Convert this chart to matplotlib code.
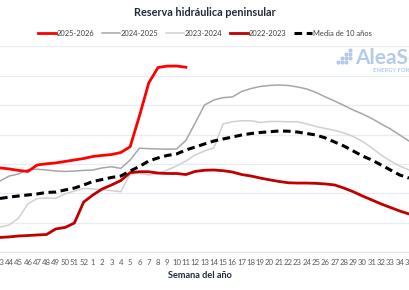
import numpy as np
import matplotlib.pyplot as plt
from matplotlib.lines import Line2D

plt.rcParams.update(
    {
        "font.family": ["Lato", "DejaVu Sans"],
        "axes.edgecolor": "#dfe6ef",
    }
)

# week of the year (hydrological year, visible part of the chart)
weeks = list(range(43, 53)) + list(range(1, 36))

# reserve, GWh
s2025_2026 = [9740, 9670, 9570, 9500, 9940, 10020, 10080, 10180, 10280, 10380,
              10520, 10590, 10650, 10790, 11180, 13270, 15520, 16570, 16670, 16670,
              16590]
s2024_2025 = [8850, 9190, 9330, 9630, 9650, 9600, 9530, 9500, 9530, 9570,
              9600, 9740, 9820, 9710, 10280, 11080, 11050, 11030, 11010, 11030,
              11610, 12800, 14020, 14360, 14520, 14570, 14940, 15140, 15280, 15350,
              15380, 15350, 15250, 15110, 14870, 14570, 14290, 13990, 13680, 13410,
              13100, 12730, 12390, 11980, 11570]
s2023_2024 = [5720, 5860, 6330, 7290, 7660, 7690, 7670, 7970, 8170, 8340,
              8310, 8270, 8190, 8120, 9330, 9390, 9260, 9360, 9600, 9870,
              10210, 10620, 10890, 11100, 12730, 12880, 12950, 12950, 12830, 12900,
              12900, 12880, 12880, 12730, 12560, 12420, 12290, 12120, 11880, 11540,
              11100, 10620, 10210, 9870, 9600]
s2022_2023 = [5010, 5050, 5110, 5140, 5180, 5210, 5590, 5690, 5990, 7420,
              7900, 8310, 8580, 8880, 9420, 9480, 9480, 9390, 9360, 9360,
              9290, 9500, 9580, 9600, 9550, 9460, 9290, 9190, 9050, 8930,
              8820, 8730, 8710, 8710, 8690, 8650, 8580, 8370, 8120, 7830,
              7560, 7290, 7050, 6810, 6610]
media_10 = [7660, 7760, 7830, 7900, 7970, 8070, 8100, 8240, 8370, 8580,
            8820, 8950, 9090, 9190, 9530, 9840, 10210, 10420, 10590, 10690,
            10960, 11160, 11370, 11570, 11710, 11840, 11980, 12080, 12150, 12200,
            12250, 12240, 12180, 12080, 11980, 11780, 11500, 11230, 10890, 10550,
            10280, 9940, 9600, 9260, 9050]

fig = plt.figure(figsize=(4.1, 2.9), dpi=100)
ax = fig.add_axes([0.0, 0.13, 1.0, 0.7097])

x = np.arange(len(weeks))
ax.plot(x[:len(s2024_2025)], s2024_2025, color="#a6a6a6", lw=1.1, label="2024-2025", zorder=3)
ax.plot(x[:len(s2023_2024)], s2023_2024, color="#d0d0d0", lw=1.1, label="2023-2024", zorder=2)
ax.plot(x[:len(s2022_2023)], s2022_2023, color="#c00000", lw=2.0, label="2022-2023", zorder=4)
ax.plot(x[:len(media_10)], media_10, color="black", lw=2.2, ls=(0, (2.5, 1.5)),
        label="Media de 10 años", zorder=5)
ax.plot(x[:len(s2025_2026)], s2025_2026, color="#ff0000", lw=2.0, label="2025-2026", zorder=6)

ax.set_xlim(0.257, 44.107)
ax.set_ylim(4000, 18000)
ax.set_yticks(np.arange(4000, 18001, 2000))
ax.set_yticklabels([])
ax.set_xticks(x)
ax.set_xticklabels([str(w) for w in weeks])
ax.tick_params(axis="x", length=0, pad=5, labelsize=5.6, colors="#595959")
ax.tick_params(axis="y", length=0)
ax.grid(axis="y", color="#e6edf5", lw=0.9)
for side in ["left", "right", "top"]:
    ax.spines[side].set_visible(False)
ax.spines["bottom"].set_color("#dfe6ef")
ax.set_axisbelow(True)

fig.text(0.5, 1 - 13 / 290, "Reserva hidráulica peninsular", ha="center", va="center",
         fontsize=7.8, fontweight="bold", color="#1f2a3a")
fig.text(200 / 410, 1 - 276 / 290, "Semana del año", ha="center", va="center",
         fontsize=6.6, fontweight="bold", color="#1f2a3a")

handles = [
    Line2D([], [], color="#ff0000", lw=2.0),
    Line2D([], [], color="#a6a6a6", lw=1.1),
    Line2D([], [], color="#d0d0d0", lw=1.1),
    Line2D([], [], color="#c00000", lw=2.0),
    Line2D([], [], color="black", lw=2.2, ls=(0, (2.5, 1.5))),
]
labels = ["2025-2026", "2024-2025", "2023-2024", "2022-2023", "Media de 10 años"]
fig.legend(handles, labels, loc="center", bbox_to_anchor=(0.5, 1 - 33 / 290), ncol=5,
           frameon=False, fontsize=5.4, handlelength=2.4, handletextpad=0.1,
           columnspacing=1.0, labelcolor="#404040")

# watermark
fig.text(355 / 410, 1 - 58 / 290, "AleaSoft", ha="left", va="center", fontsize=15,
         fontweight="bold", color="#b3cbe8", zorder=0)
fig.text(373 / 410, 1 - 70 / 290, "ENERGY FORECASTING", ha="left", va="center",
         fontsize=4.2, fontweight="bold", color="#b3cbe8", zorder=0)
dots_x = [338, 342, 342, 346, 346, 346, 350, 350, 350]
dots_y = [62, 58, 62, 54, 58, 62, 50, 54, 58]
fig.add_artist(Line2D(np.array(dots_x) / 410, 1 - np.array(dots_y) / 290, ls="",
                      marker="o", ms=2.0, color="#b3cbe8", transform=fig.transFigure))

fig.savefig("out.png", dpi=100, facecolor="white")
